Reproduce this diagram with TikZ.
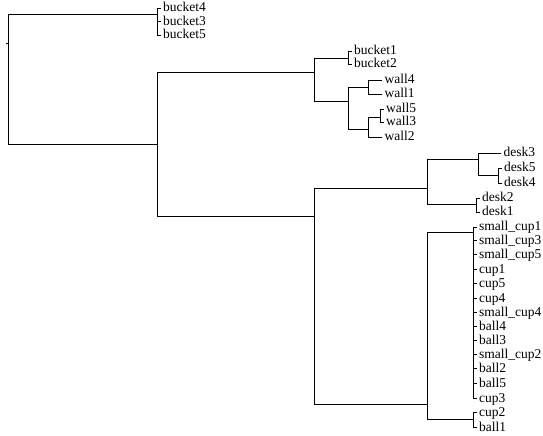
\documentclass[tikz,border=0pt]{standalone}
\usepackage{fontspec}
\setmainfont{Liberation Serif}
\begin{document}
\begin{tikzpicture}[x=1bp,y=-1bp,
  link/.style={draw=black, line width=0.9bp, line cap=rect},
  lbl/.style={anchor=base west, inner sep=0pt, font=\fontsize{13.5bp}{14bp}\selectfont}]
\useasboundingbox (0,0) rectangle (543,436);
% junction coordinates
\coordinate (rT) at (8,14);   \coordinate (rB) at (8,144);  \coordinate (rS) at (8,43); \coordinate (rSe) at (6,43);
\coordinate (bJ) at (157,14); \coordinate (bT) at (157,8);  \coordinate (bB) at (157,35);
\coordinate (mJ) at (157,144);\coordinate (mT) at (157,72); \coordinate (mB) at (157,216);
\coordinate (bwJ) at (314,72);\coordinate (bwT) at (314,58);\coordinate (bwB) at (314,101);
\coordinate (b12J) at (348,58);\coordinate (b12T) at (348,51);\coordinate (b12B) at (348,64);
\coordinate (wJ) at (348,101);\coordinate (wT) at (348,87); \coordinate (wB) at (348,129);
\coordinate (w41J) at (368,87);\coordinate (w41T) at (368,80);\coordinate (w41B) at (368,94);
\coordinate (w532J) at (368,129);\coordinate (w532T) at (368,117);\coordinate (w532B) at (368,137);
\coordinate (w53J) at (380,117);\coordinate (w53T) at (380,109);\coordinate (w53B) at (380,122);
\coordinate (dcJ) at (314,216);\coordinate (dcT) at (314,188);\coordinate (dcB) at (314,404);
\coordinate (dJ) at (427,188); \coordinate (dT) at (427,159); \coordinate (dB) at (427,204);
\coordinate (d354J) at (478,159);\coordinate (d354T) at (478,153);\coordinate (d354B) at (478,175);
\coordinate (d54J) at (498,175);\coordinate (d54T) at (498,168);\coordinate (d54B) at (498,183);
\coordinate (d21J) at (476,204);\coordinate (d21T) at (476,198);\coordinate (d21B) at (476,212);
\coordinate (cJ) at (427,404); \coordinate (cT) at (427,232); \coordinate (cB) at (427,419);
\coordinate (gJ) at (473,232); \coordinate (gT) at (473,227); \coordinate (gB) at (473,398);
\coordinate (c21J) at (473,419);\coordinate (c21T) at (473,412);\coordinate (c21B) at (473,427);
% tree links
\draw[link] (rT) -- (rB);
\draw[link] (rS) -- (rSe);
\draw[link] (rT) -- (bJ);  \draw[link] (bT) -- (bB);
\draw[link] (rB) -- (mJ);  \draw[link] (mT) -- (mB);
\draw[link] (mT) -- (bwJ); \draw[link] (bwT) -- (bwB);
\draw[link] (bwT) -- (b12J); \draw[link] (b12T) -- (b12B);
\draw[link] (bwB) -- (wJ); \draw[link] (wT) -- (wB);
\draw[link] (wT) -- (w41J); \draw[link] (w41T) -- (w41B);
\draw[link] (wB) -- (w532J); \draw[link] (w532T) -- (w532B);
\draw[link] (w532T) -- (w53J); \draw[link] (w53T) -- (w53B);
\draw[link] (mB) -- (dcJ); \draw[link] (dcT) -- (dcB);
\draw[link] (dcT) -- (dJ); \draw[link] (dT) -- (dB);
\draw[link] (dT) -- (d354J); \draw[link] (d354T) -- (d354B);
\draw[link] (d354B) -- (d54J); \draw[link] (d54T) -- (d54B);
\draw[link] (dB) -- (d21J); \draw[link] (d21T) -- (d21B);
\draw[link] (dcB) -- (cJ); \draw[link] (cT) -- (cB);
\draw[link] (cT) -- (gJ); \draw[link] (gT) -- (gB);
\draw[link] (cB) -- (c21J); \draw[link] (c21T) -- (c21B);
% leaves: name / text / bracket x / tick end x / y
\foreach \n/\t/\bx/\tx/\yy in {
  bucket4/bucket4/157/160.5/8, bucket3/bucket3/157/160.5/21.5, bucket5/bucket5/157/160.5/35,
  bucket1/bucket1/348/351.5/51, bucket2/bucket2/348/351.5/64,
  wall4/wall4/368/382/80, wall1/wall1/368/382/94,
  wall5/wall5/380/383.5/109, wall3/wall3/380/383.5/122, wall2/wall2/368/382/137,
  desk3/desk3/478/501/153, desk5/desk5/498/501.5/168, desk4/desk4/498/501.5/183,
  desk2/desk2/476/479.5/198, desk1/desk1/476/479.5/212,
  sc1/small\_cup1/473/476.5/227, sc3/small\_cup3/473/476.5/240.5, sc5/small\_cup5/473/476.5/254.5,
  cup1/cup1/473/476.5/269, cup5/cup5/473/476.5/283.5, cup4/cup4/473/476.5/298,
  sc4/small\_cup4/473/476.5/312, ball4/ball4/473/476.5/326.5, ball3/ball3/473/476.5/340.5,
  sc2/small\_cup2/473/476.5/354.5, ball2/ball2/473/476.5/368.5, ball5/ball5/473/476.5/383,
  cup3/cup3/473/476.5/398,
  cup2/cup2/473/476.5/412, ball1/ball1/473/476.5/427} {
  \coordinate (\n-b) at (\bx,\yy);
  \coordinate (\n-t) at (\tx,\yy);
  \node[lbl] (\n) at (\tx+2.5,\yy+4) {\t};
  \draw[link] (\n-b) -- (\n-t);
}
\end{tikzpicture}
\end{document}
